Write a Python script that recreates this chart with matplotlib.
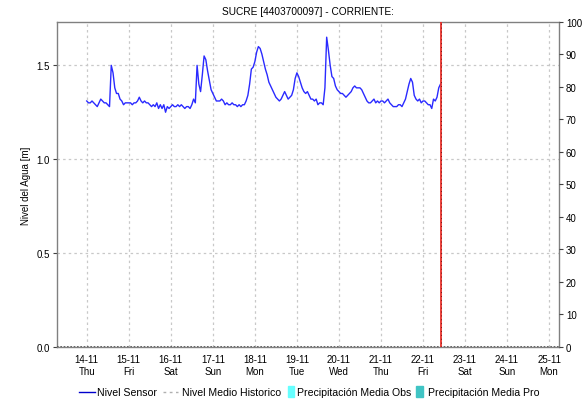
import matplotlib
matplotlib.use("Agg")
import matplotlib.pyplot as plt
from matplotlib.lines import Line2D
from matplotlib.patches import Rectangle
import pandas as pd

plt.rcParams['font.family'] = ['Liberation Sans', 'DejaVu Sans']

title = "SUCRE [4403700097] - CORRIENTE:"
ylabel = "Nivel del Agua [m]"

# Hourly water level readings (m), one list per day
day_14 = [1.31, 1.30, 1.30, 1.31, 1.30, 1.29, 1.28, 1.30, 1.32, 1.31, 1.30, 1.30,
          1.29, 1.28, 1.50, 1.46, 1.38, 1.35, 1.35, 1.32, 1.31, 1.29, 1.30, 1.30]
day_15 = [1.30, 1.30, 1.29, 1.30, 1.30, 1.31, 1.33, 1.31, 1.30, 1.31, 1.30, 1.30,
          1.29, 1.28, 1.29, 1.28, 1.30, 1.27, 1.29, 1.27, 1.29, 1.25, 1.28, 1.27]
day_16 = [1.28, 1.29, 1.28, 1.28, 1.29, 1.28, 1.29, 1.28, 1.27, 1.28, 1.28, 1.27,
          1.29, 1.32, 1.30, 1.50, 1.40, 1.36, 1.45, 1.55, 1.53, 1.47, 1.42, 1.37]
day_17 = [1.35, 1.33, 1.31, 1.31, 1.31, 1.32, 1.31, 1.29, 1.30, 1.29, 1.29, 1.30,
          1.29, 1.29, 1.28, 1.29, 1.28, 1.29, 1.29, 1.31, 1.34, 1.40, 1.48, 1.49]
day_18 = [1.52, 1.57, 1.60, 1.59, 1.56, 1.52, 1.48, 1.45, 1.41, 1.39, 1.37, 1.35,
          1.33, 1.32, 1.31, 1.32, 1.34, 1.36, 1.34, 1.32, 1.33, 1.34, 1.37, 1.43]
day_19 = [1.46, 1.44, 1.41, 1.38, 1.36, 1.35, 1.36, 1.34, 1.32, 1.32, 1.31, 1.32,
          1.29, 1.30, 1.30, 1.29, 1.38, 1.65, 1.58, 1.50, 1.44, 1.43, 1.39, 1.37]
day_20 = [1.36, 1.35, 1.35, 1.34, 1.33, 1.34, 1.35, 1.36, 1.38, 1.39, 1.38, 1.38,
          1.38, 1.37, 1.35, 1.33, 1.31, 1.30, 1.30, 1.31, 1.32, 1.30, 1.31, 1.30]
day_21 = [1.31, 1.31, 1.30, 1.31, 1.32, 1.30, 1.29, 1.28, 1.28, 1.28, 1.29, 1.29,
          1.28, 1.30, 1.32, 1.36, 1.40, 1.43, 1.41, 1.34, 1.32, 1.31, 1.32, 1.30]
day_22 = [1.31, 1.31, 1.30, 1.29, 1.29, 1.27, 1.32, 1.31, 1.33, 1.38, 1.40]

nivel = day_14 + day_15 + day_16 + day_17 + day_18 + day_19 + day_20 + day_21 + day_22
times = pd.date_range("2024-11-14 00:00", periods=len(nivel), freq="h")
now = times[-1]

tick_days = pd.date_range("2024-11-14", "2024-11-25", freq="D")
tick_labels = [f"{d.day}-{d.month}\n{d.strftime('%a')}" for d in tick_days]

right_ticks = list(range(0, 101, 10))
left_ticks = [0.0, 0.5, 1.0, 1.5]

fig = plt.figure(figsize=(5.82, 4.02), dpi=100)
ax = fig.add_axes([0.0979, 0.135, 0.8626, 0.8078])

ax.set_xlim(pd.Timestamp("2024-11-13 07:00"), pd.Timestamp("2024-11-25 05:40"))
ax.set_ylim(0, 1.731)

grid_kw = dict(color="#c8c8c8", lw=0.9, ls=(0, (2, 2.5)), zorder=0)
for d in tick_days:
    ax.axvline(d, **grid_kw)
for v in left_ticks[1:]:
    ax.axhline(v, **grid_kw)

ax.axhline(0, color="#505050", lw=1.2, ls=(0, (1, 1)), zorder=3)
ax.plot(times, nivel, color="#2a2aff", lw=1.0, zorder=4)
ax.axvline(now, color="#e8302a", lw=1.3, zorder=5)
ax.axvline(now, color="#7a1010", lw=0.7, ls=(0, (1, 3)), zorder=6)

ax.set_xticks(tick_days)
ax.set_xticklabels(tick_labels, fontsize=7, linespacing=1.25)
ax.set_yticks(left_ticks)
ax.set_yticklabels([f"{v:.1f}" for v in left_ticks], fontsize=7)
ax.tick_params(axis="x", length=0, pad=5)
ax.tick_params(axis="y", length=3, width=0.8, color="#404040", pad=2)
ax.set_ylabel(ylabel, fontsize=7, labelpad=4)

for s in ax.spines.values():
    s.set_color("#808080")
    s.set_linewidth(1.0)

ax2 = ax.twinx()
ax2.set_ylim(0, 100)
ax2.set_yticks(right_ticks)
ax2.set_yticklabels([str(t) for t in right_ticks], fontsize=7)
ax2.tick_params(axis="y", length=3, width=0.8, color="#404040", pad=2)
for s in ax2.spines.values():
    s.set_visible(False)

fig.text(308 / 582, 0.971, title, ha="center", va="center", fontsize=7.3)

# Legend row
ly = 0.023
lfs = 7.6
fig.add_artist(Line2D([79 / 582, 95 / 582], [ly, ly], color="#0000cc", lw=1.0))
fig.text(97 / 582, ly, "Nivel Sensor", fontsize=lfs, va="center")
fig.add_artist(Line2D([163 / 582, 178 / 582], [ly, ly], color="#b0b0b0", lw=1.0, ls=(0, (2, 2.5))))
fig.text(181.5 / 582, ly, "Nivel Medio Historico", fontsize=lfs, va="center")
fig.add_artist(Rectangle((288 / 582, ly - 5.5 / 402), 6 / 582, 11 / 402, color="#66ffff"))
fig.text(297 / 582, ly, "Precipitación Media Obs", fontsize=lfs, va="center")
fig.add_artist(Rectangle((416 / 582, ly - 5.5 / 402), 7 / 582, 11 / 402, color="#40c4c4"))
fig.text(428 / 582, ly, "Precipitación Media Pro", fontsize=lfs, va="center")

fig.savefig("out.png", dpi=100)
